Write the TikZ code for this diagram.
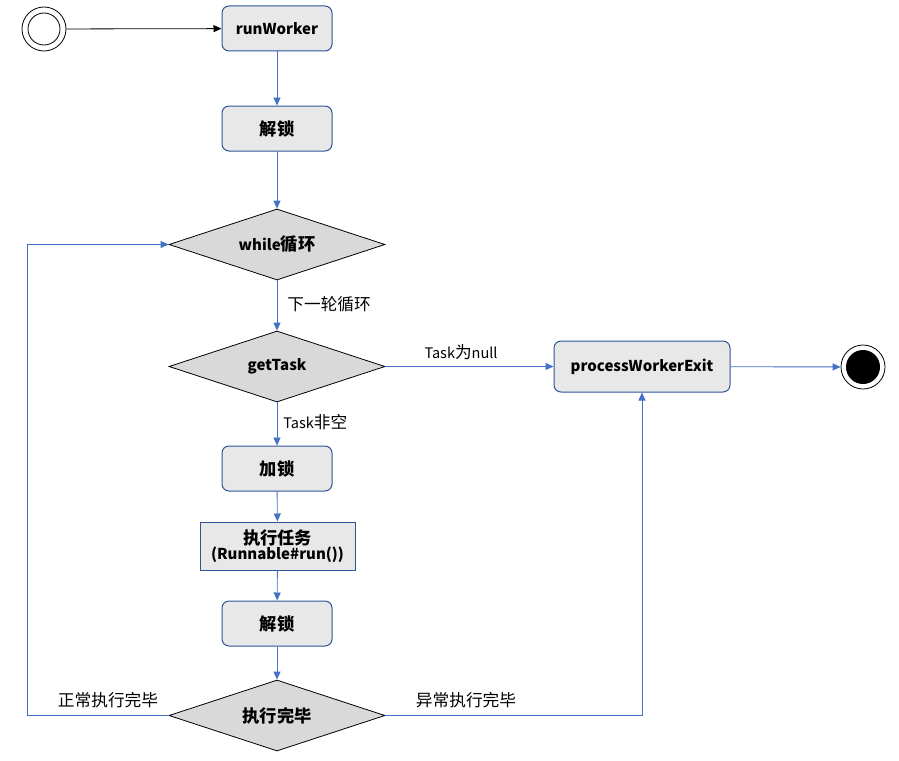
\documentclass[tikz,border=0pt]{standalone}
\usepackage{fontspec}
\setmainfont{Noto Sans CJK SC}
\newfontfamily\cjk[Scale=1.15]{Noto Sans CJK SC}
\newcommand{\zh}[1]{{\cjk #1}}
\usetikzlibrary{arrows.meta,shapes.geometric}
\definecolor{lblue}{HTML}{4472C4}
\definecolor{bblue}{HTML}{2F5597}
\definecolor{boxfill}{HTML}{E8E8E8}
\definecolor{diafill}{HTML}{D9D9D9}
\begin{document}
\begin{tikzpicture}[x=1pt,y=-1pt,
  rbox/.style={draw=bblue,line width=1pt,fill=boxfill,rounded corners=7pt,minimum width=110pt,minimum height=45pt,font=\fontsize{15}{18}\selectfont\bfseries,inner sep=0pt},
  sbox/.style={draw=bblue,line width=1pt,fill=boxfill,minimum width=155pt,minimum height=48pt,font=\fontsize{15}{18}\selectfont\bfseries,inner sep=0pt,align=center},
  dia/.style={draw=black,line width=0.8pt,fill=diafill,diamond,aspect=3.04,minimum width=216pt,minimum height=71pt,inner sep=0pt,font=\fontsize{15}{18}\selectfont\bfseries},
  conn/.style={draw=lblue,line width=0.9pt,-{Triangle[width=7pt,length=8pt]}},
  lbl/.style={font=\fontsize{14.5}{16}\selectfont,inner sep=0pt}]
\useasboundingbox (0,0) rectangle (899,760);
% start
\node[circle,draw,line width=0.8pt,minimum size=44pt,inner sep=0pt] (start) at (44,29) {};
\node[circle,draw,line width=0.8pt,minimum size=32pt,inner sep=0pt] at (44,29) {};
% end
\node[circle,draw,line width=0.8pt,fill=white,minimum size=44pt,inner sep=0pt] (stop) at (863,367) {};
\node[circle,fill=black,minimum size=34pt,inner sep=0pt] at (863,367) {};
% nodes
\node[rbox] (rw) at (277,28.5) {runWorker};
\node[rbox] (ul1) at (277,128.5) {\zh{解锁}};
\node[dia] (wh) at (277,244.5) {while\zh{循环}};
\node[dia] (gt) at (277,366.5) {getTask};
\node[rbox,minimum width=176pt,minimum height=51pt] (pwe) at (642,366.5) {processWorkerExit};
\node[rbox] (lk) at (277,468.5) {\zh{加锁}};
\node[sbox] (ex) at (277.5,546) {\zh{执行任务}\\[-3pt](Runnable\#run())};
\node[rbox] (ul2) at (277,623.5) {\zh{解锁}};
\node[dia] (dn) at (277,715.5) {\zh{执行完毕}};
% connectors
\draw[line width=0.8pt,-{Triangle[width=7pt,length=8pt]}] (start) -- (rw);
\draw[conn] (rw) -- (ul1);
\draw[conn] (ul1) -- (wh);
\draw[conn] (wh) -- node[lbl,right=10pt,pos=0.48]{\zh{下一轮循环}} (gt);
\draw[conn] (gt) -- node[lbl,above=6pt,pos=0.45]{Task\zh{为}null} (pwe);
\draw[conn] (pwe) -- (stop);
\draw[conn] (gt) -- node[lbl,right=6pt,pos=0.45]{Task\zh{非空}} (lk);
\draw[conn] (lk) -- (ex);
\draw[conn] (ex) -- (ul2);
\draw[conn] (ul2) -- (dn);
\coordinate (lb) at (27,715.5);
\coordinate (lt) at (27,244.5);
\coordinate (rb) at (642,715.5);
\draw[conn] (dn.west) -- (lb) -- (lt) -- (wh.west);
\draw[conn] (dn.east) -- (rb) -- (pwe.south);
\node[lbl] (l1) at (108,700) {\zh{正常执行完毕}};
\node[lbl] (l2) at (466,700) {\zh{异常执行完毕}};
\end{tikzpicture}
\end{document}
